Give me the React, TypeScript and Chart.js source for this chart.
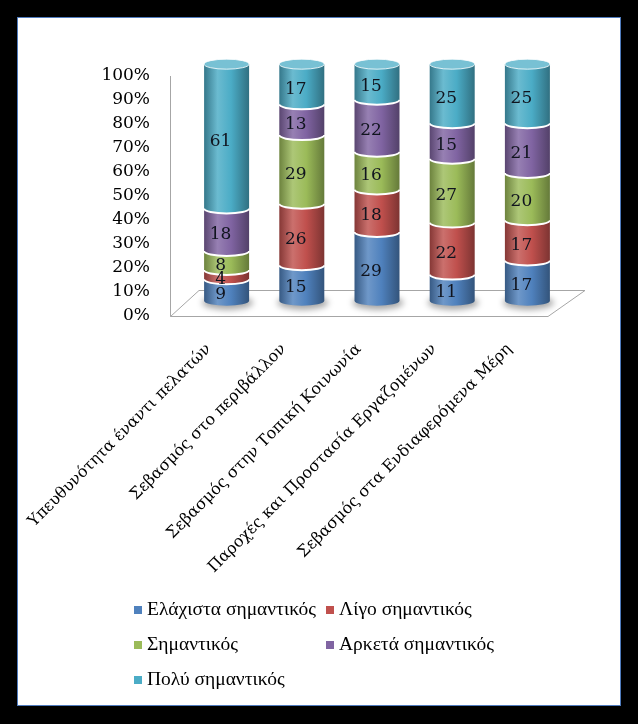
import React, { useEffect, useRef } from "react";
import { Chart, registerables } from "chart.js";

Chart.register(...registerables);

const categories = [
  "Υπευθυνότητα έναντι πελατών",
  "Σεβασμός στο περιβάλλον",
  "Σεβασμός στην Τοπική Κοινωνία",
  "Παροχές και Προστασία Εργαζομένων",
  "Σεβασμός στα Ενδιαφερόμενα Μέρη",
];
const seriesNames = [
  "Ελάχιστα σημαντικός",
  "Λίγο σημαντικός",
  "Σημαντικός",
  "Αρκετά σημαντικός",
  "Πολύ σημαντικός",
];
const elaxista = [9, 15, 29, 11, 17];
const ligo = [4, 26, 18, 22, 17];
const simantikos = [8, 29, 16, 27, 20];
const arketa = [18, 13, 22, 15, 21];
const poly = [61, 17, 15, 25, 25];
const seriesValues = [elaxista, ligo, simantikos, arketa, poly];
const seriesColors = ["#4F81BD", "#C0504D", "#9BBB59", "#8064A2", "#4BACC6"];

const RY = 5;
const SERIF = "DejaVu Serif";
const LEGEND_FONT = "Liberation Serif";

function mix(hex: string, target: number, f: number): string {
  const n = parseInt(hex.slice(1), 16);
  const r = (n >> 16) & 255, g = (n >> 8) & 255, b = n & 255;
  const m = (c: number) => Math.round(c + (target - c) * f);
  return `rgb(${m(r)},${m(g)},${m(b)})`;
}

const cylinderPlugin = {
  id: "cylinders",
  beforeDatasetsDraw(chart: any) {
    const ctx = chart.ctx;
    const y = chart.scales.y;
    const y0 = y.getPixelForValue(0);
    const y100 = y.getPixelForValue(100);
    const { left, right } = chart.chartArea;
    const ax = left - 19;
    ctx.save();
    ctx.strokeStyle = "#a6a6a6";
    ctx.lineWidth = 1;
    ctx.beginPath();
    ctx.moveTo(ax + 0.5, y100);
    ctx.lineTo(ax + 0.5, y0 + 0.5);
    ctx.stroke();
    ctx.beginPath();
    ctx.moveTo(ax + 0.5, y0 + 0.5);
    ctx.lineTo(right - 17, y0 + 0.5);
    ctx.lineTo(right + 20, y0 - 26 + 0.5);
    ctx.lineTo(ax + 29, y0 - 26 + 0.5);
    ctx.closePath();
    ctx.stroke();
    ctx.restore();
  },
  afterDatasetsDraw(chart: any) {
    const ctx = chart.ctx;
    const n = chart.data.labels.length;
    const nd = chart.data.datasets.length;
    for (let j = 0; j < n; j++) {
      const first = chart.getDatasetMeta(0).data[j].getProps(["x", "base", "width"], true);
      ctx.save();
      ctx.filter = "blur(3px)";
      ctx.fillStyle = "rgba(0,0,0,0.35)";
      ctx.beginPath();
      ctx.ellipse(first.x + 1, first.base + 2, first.width / 2 + 3, RY + 2, 0, 0, Math.PI * 2);
      ctx.fill();
      ctx.restore();
      for (let d = 0; d < nd; d++) {
        const el = chart.getDatasetMeta(d).data[j];
        const { x, y, base, width } = el.getProps(["x", "y", "base", "width"], true);
        const rx = width / 2;
        const l = x - rx, r = x + rx;
        const c = seriesColors[d];
        const g = ctx.createLinearGradient(l, 0, r, 0);
        g.addColorStop(0, mix(c, 0, 0.3));
        g.addColorStop(0.3, mix(c, 255, 0.18));
        g.addColorStop(0.6, c);
        g.addColorStop(1, mix(c, 0, 0.35));
        ctx.save();
        ctx.fillStyle = g;
        ctx.beginPath();
        ctx.moveTo(l, y);
        ctx.lineTo(l, base);
        ctx.ellipse(x, base, rx, RY, 0, Math.PI, 0, true);
        ctx.lineTo(r, y);
        ctx.closePath();
        ctx.fill();
        if (d > 0) {
          ctx.strokeStyle = "#ffffff";
          ctx.lineWidth = 2;
          ctx.beginPath();
          ctx.ellipse(x, base, rx, RY, 0, Math.PI, 0, true);
          ctx.stroke();
        }
        if (d === nd - 1) {
          ctx.fillStyle = mix(c, 255, 0.25);
          ctx.beginPath();
          ctx.ellipse(x, y, rx, RY, 0, 0, Math.PI * 2);
          ctx.fill();
          ctx.strokeStyle = "rgba(255,255,255,0.8)";
          ctx.lineWidth = 1;
          ctx.stroke();
        }
        ctx.restore();
      }
      for (let d = 0; d < nd; d++) {
        const el = chart.getDatasetMeta(d).data[j];
        const { x, y, base } = el.getProps(["x", "y", "base"], true);
        ctx.save();
        ctx.font = `17px "${SERIF}"`;
        ctx.fillStyle = "#10141e";
        ctx.textAlign = "center";
        ctx.textBaseline = "middle";
        ctx.fillText(String(chart.data.datasets[d].data[j]), x - 6, (y + base) / 2 + RY);
        ctx.restore();
      }
    }
  },
  afterDraw(chart: any) {
    const ctx = chart.ctx;
    ctx.save();
    ctx.font = `19.5px "${LEGEND_FONT}"`;
    ctx.textBaseline = "middle";
    ctx.textAlign = "left";
    chart.data.datasets.forEach((ds: any, i: number) => {
      const col = i % 2, row = Math.floor(i / 2);
      const bx = 134 + col * 192;
      const by = 610 + row * 35;
      ctx.fillStyle = seriesColors[i];
      ctx.fillRect(bx, by - 4, 8, 8);
      ctx.fillStyle = "#000";
      ctx.fillText(ds.label, bx + 13, by);
    });
    ctx.restore();
  },
};

export default function App() {
  const ref = useRef<HTMLCanvasElement>(null);
  useEffect(() => {
    const chart = new Chart(ref.current!, {
      type: "bar",
      data: {
        labels: categories,
        datasets: seriesValues.map((vals, i) => ({
          label: seriesNames[i],
          data: vals,
          backgroundColor: "rgba(0,0,0,0)",
          borderWidth: 0,
          yAxisID: "y2",
          barThickness: 45,
          stack: "s",
        })),
      },
      options: {
        animation: false,
        responsive: false,
        maintainAspectRatio: false,
        layout: { padding: { top: 76, right: 73, left: 0, bottom: 0 } },
        plugins: { legend: { display: false }, tooltip: { enabled: false } },
        scales: {
          x: {
            stacked: true,
            offset: true,
            grid: { display: false },
            border: { display: false },
            ticks: {
              maxRotation: 45,
              minRotation: 45,
              autoSkip: false,
              labelOffset: -18,
              padding: 16,
              color: "#000",
              font: { family: SERIF, size: 16 },
            },
            afterFit: (s: any) => {
              s.height = 724 - 316;
            },
          },
          y: {
            min: 0,
            max: 100,
            grid: { display: false },
            border: { display: false },
            ticks: {
              stepSize: 10,
              autoSkip: false,
              padding: 31,
              color: "#000",
              font: { family: SERIF, size: 17 },
              callback: (v: any) => v + "%",
            },
            afterFit: (s: any) => {
              s.width = 189;
            },
          },
          y2: { display: false, stacked: true, min: -6.5, max: 95 },
        },
      },
      plugins: [cylinderPlugin],
    });
    return () => chart.destroy();
  }, []);
  return (
    <div style={{ position: "fixed", left: 0, top: 0, width: 638, height: 724, background: "#000" }}>
      <div
        style={{
          position: "absolute",
          left: 17,
          top: 17,
          width: 602,
          height: 687,
          border: "1px solid #4f7bbd",
          background: "#fff",
        }}
      />
      <canvas
        ref={ref}
        width={638}
        height={724}
        style={{ position: "absolute", left: 0, top: 0, width: 638, height: 724 }}
      />
    </div>
  );
}
